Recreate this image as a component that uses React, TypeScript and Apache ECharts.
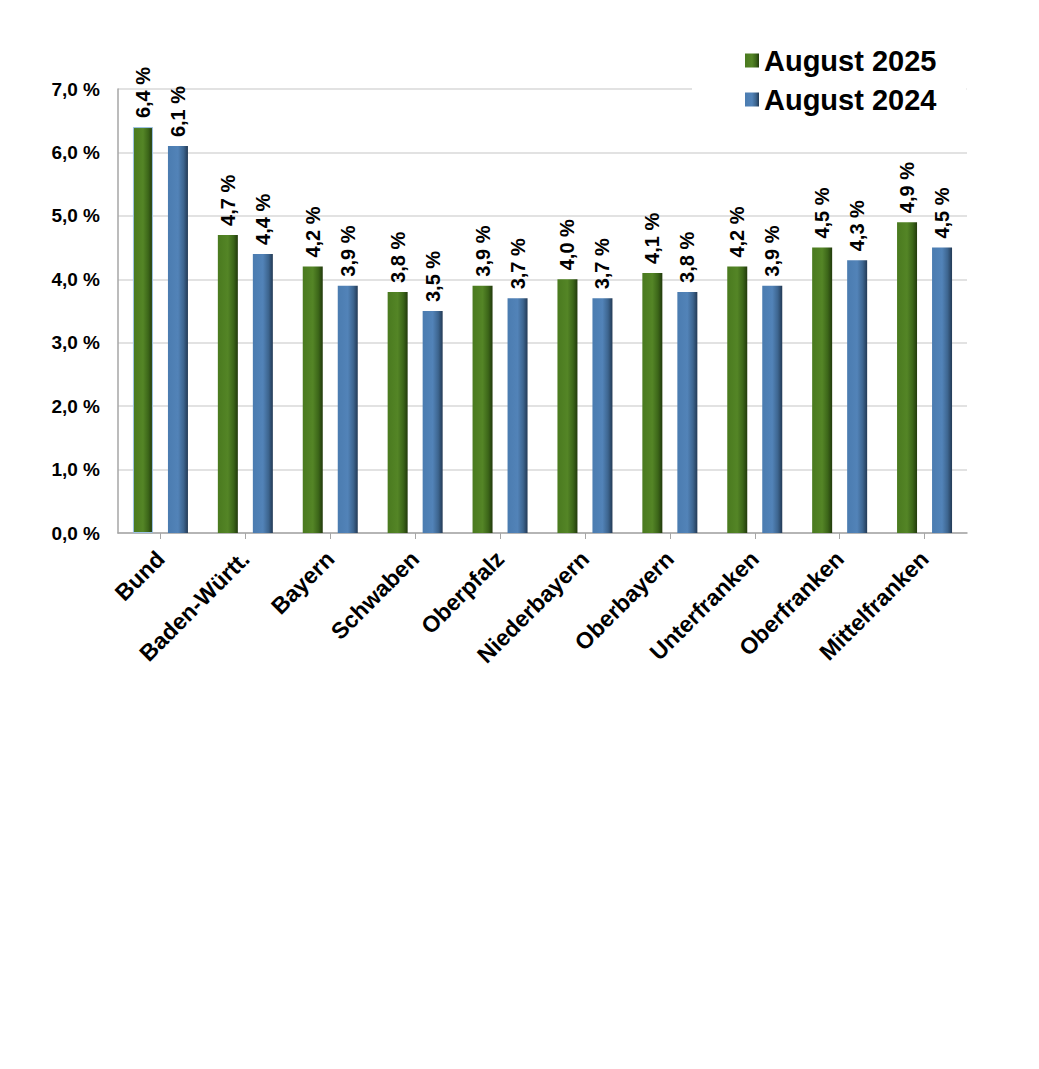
import React, { useEffect, useRef } from "react";
import * as echarts from "echarts";

const categories = [
  "Bund",
  "Baden-Württ.",
  "Bayern",
  "Schwaben",
  "Oberpfalz",
  "Niederbayern",
  "Oberbayern",
  "Unterfranken",
  "Oberfranken",
  "Mittelfranken",
];
const aug2025 = [6.4, 4.7, 4.2, 3.8, 3.9, 4.0, 4.1, 4.2, 4.5, 4.9];
const aug2024 = [6.1, 4.4, 3.9, 3.5, 3.7, 3.7, 3.8, 3.9, 4.3, 4.5];
const seriesNames = ["August 2025", "August 2024"];

const fmt = (v: number) => v.toFixed(1).replace(".", ",") + " %";

const greenGrad = new echarts.graphic.LinearGradient(0, 0, 1, 0, [
  { offset: 0, color: "#4a7a1f" },
  { offset: 0.5, color: "#548526" },
  { offset: 0.78, color: "#3c6619" },
  { offset: 1, color: "#223a0c" },
]);
const blueGrad = new echarts.graphic.LinearGradient(0, 0, 1, 0, [
  { offset: 0, color: "#4b7cb0" },
  { offset: 0.5, color: "#5283b8" },
  { offset: 0.78, color: "#3d658f" },
  { offset: 1, color: "#233a55" },
]);

const FONT = "Arial, 'Liberation Sans', sans-serif";

export default function App() {
  const ref = useRef<HTMLDivElement>(null);
  useEffect(() => {
    if (!ref.current) return;
    const chart = echarts.init(ref.current, null, { renderer: "svg" });
    const label = {
      show: true,
      position: "top" as const,
      rotate: 90,
      align: "left" as const,
      verticalAlign: "middle" as const,
      distance: 9,
      fontFamily: FONT,
      fontWeight: "bold" as const,
      fontSize: 20,
      color: "#000",
      formatter: (p: any) => fmt(p.value as number),
    };
    chart.setOption({
      animation: false,
      backgroundColor: "#fff",
      grid: { left: 118, right: 72, top: 89, bottom: 536, containLabel: false },
      legend: {
        orient: "vertical",
        left: 692,
        top: 28,
        padding: [18, 30, 12, 53],
        backgroundColor: "#fff",
        itemWidth: 14,
        itemHeight: 14,
        itemGap: 10,
        icon: "rect",
        textStyle: { fontFamily: FONT, fontWeight: "bold", fontSize: 29, color: "#000" },
        data: seriesNames,
      },
      xAxis: {
        type: "category",
        data: categories,
        axisLine: { lineStyle: { color: "#a6a6a6", width: 1.5 } },
        axisTick: { show: true, alignWithLabel: true, length: 6, lineStyle: { color: "#a6a6a6" } },
        axisLabel: {
          rotate: 45,
          interval: 0,
          margin: 22,
          fontFamily: FONT,
          fontWeight: "bold",
          fontSize: 23,
          color: "#000",
        },
      },
      yAxis: {
        type: "value",
        min: 0,
        max: 7,
        interval: 1,
        axisLine: { show: true, lineStyle: { color: "#a6a6a6", width: 1.5 } },
        axisTick: { show: false },
        splitLine: { lineStyle: { color: "#d9d9d9", width: 1.5 } },
        axisLabel: {
          margin: 18,
          fontFamily: FONT,
          fontWeight: "bold",
          fontSize: 19,
          color: "#000",
          formatter: (v: number) => fmt(v),
        },
      },
      series: [
        {
          name: seriesNames[0],
          type: "bar",
          data: aug2025.map((v, i) =>
            i === 0
              ? { value: v, itemStyle: { borderColor: "#9dc3e6", borderWidth: 1 } }
              : v
          ),
          barWidth: 20,
          barGap: "75%",
          itemStyle: { color: greenGrad },
          label,
        },
        {
          name: seriesNames[1],
          type: "bar",
          data: aug2024,
          barWidth: 20,
          itemStyle: { color: blueGrad },
          label,
        },
      ],
    });
    return () => chart.dispose();
  }, []);
  return <div ref={ref} style={{ width: 1039, height: 1069, marginLeft: -8, marginTop: -8 }} />;
}
